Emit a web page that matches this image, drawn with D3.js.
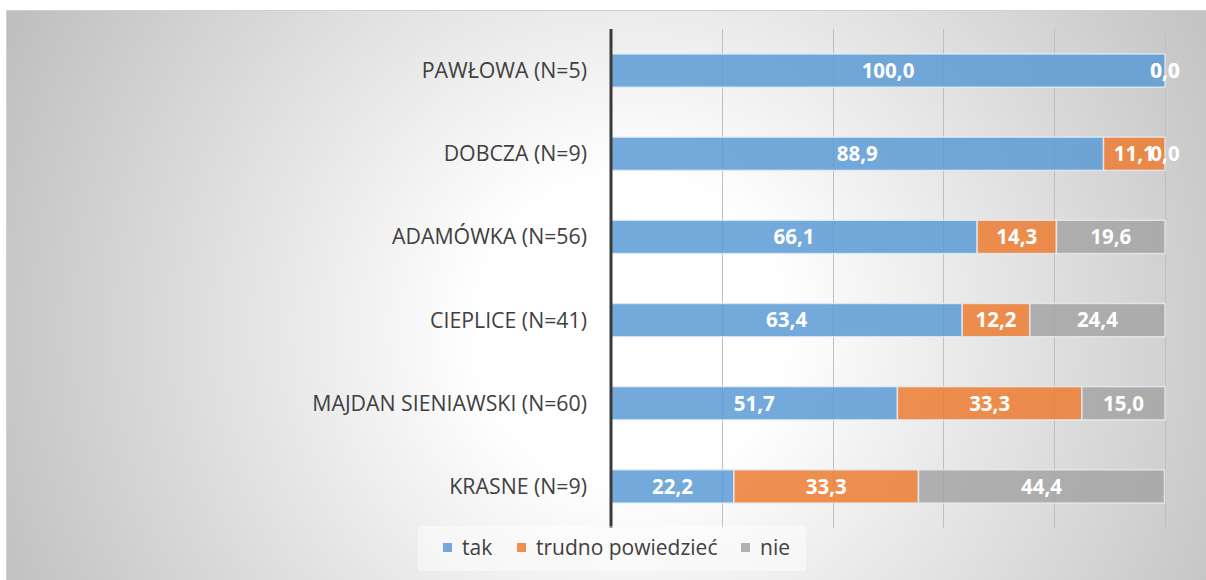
<!DOCTYPE html>
<html>
<head>
<meta charset="utf-8">
<script src="https://cdn.jsdelivr.net/npm/d3@7"></script>
<style>
  html, body { margin: 0; padding: 0; background: #ffffff; }
  svg { display: block; }
</style>
</head>
<body>
<svg id="chart" width="1206" height="580"></svg>
<script>
const categories = ["PAWŁOWA (N=5)", "DOBCZA (N=9)", "ADAMÓWKA (N=56)", "CIEPLICE (N=41)", "MAJDAN SIENIAWSKI (N=60)", "KRASNE (N=9)"];
const seriesNames = ["tak", "trudno powiedzieć", "nie"];
const tak = [100.0, 88.9, 66.1, 63.4, 51.7, 22.2];
const trudno = [0.0, 11.1, 14.3, 12.2, 33.3, 33.3];
const nie = [0.0, 0.0, 19.6, 24.4, 15.0, 44.4];
const xTicks = [0, 20, 40, 60, 80, 100];
const colors = ["#5b9bd5", "#ed7d31", "#a5a5a5"];

const W = 1206, H = 580;
const plot = { left: 611, right: 1165, top: 29, bottom: 528 };
const svg = d3.select("#chart");
const defs = svg.append("defs");
const grad = defs.append("radialGradient").attr("id", "bg")
  .attr("gradientUnits", "userSpaceOnUse")
  .attr("cx", 630).attr("cy", 330).attr("r", 690);
grad.append("stop").attr("offset", 0).attr("stop-color", "#ffffff");
grad.append("stop").attr("offset", 0.22).attr("stop-color", "#ffffff");
grad.append("stop").attr("offset", 1).attr("stop-color", "#bfbfbf");

svg.append("rect").attr("x", 6.5).attr("y", 10.5).attr("width", W).attr("height", H)
  .attr("fill", "url(#bg)").attr("stroke", "#d0d0d0").attr("stroke-width", 1);

const rows = categories.map((c, i) => ({ cat: c, "tak": tak[i], "trudno powiedzieć": trudno[i], "nie": nie[i] }));
const stacked = d3.stack().keys(seriesNames)(rows);

const x = d3.scaleLinear().domain([0, 100]).range([plot.left, plot.right]);
const y = d3.scaleBand().domain(categories).range([plot.top, plot.bottom]).paddingInner(0.6).paddingOuter(0.3);

// gridlines
svg.append("g").selectAll("line").data(xTicks.slice(1)).join("line")
  .attr("x1", d => Math.round(x(d)) + 0.5).attr("x2", d => Math.round(x(d)) + 0.5)
  .attr("y1", plot.top).attr("y2", plot.bottom)
  .attr("stroke", "#bfbfbf").attr("stroke-width", 1);

// bars
const gBars = svg.append("g");
stacked.forEach((s, si) => {
  gBars.append("g").selectAll("rect").data(s).join("rect")
    .attr("x", d => x(d[0]))
    .attr("y", d => y(d.data.cat))
    .attr("width", d => Math.max(0, x(d[1]) - x(d[0])))
    .attr("height", y.bandwidth())
    .attr("fill", colors[si]).attr("fill-opacity", 0.85)
    .attr("stroke", "#e6eef6").attr("stroke-opacity", 0.8).attr("stroke-width", 1.5);
});

// axis line
svg.append("line").attr("x1", plot.left).attr("x2", plot.left)
  .attr("y1", plot.top).attr("y2", plot.bottom)
  .attr("stroke", "#3a3a3a").attr("stroke-width", 3);

// category labels
const fmt = v => d3.format(".1f")(v).replace(".", ",");
svg.append("g").selectAll("text").data(categories).join("text")
  .attr("x", 587).attr("y", d => y(d) + y.bandwidth() / 2)
  .attr("dy", "0.35em").attr("text-anchor", "end")
  .attr("font-family", "'Open Sans', sans-serif").attr("font-size", 21.3)
  .attr("fill", "#404040").text(d => d);

// data labels
const gLab = svg.append("g");
stacked.forEach((s, si) => {
  gLab.append("g").selectAll("text").data(s).join("text")
    .attr("x", d => (x(d[0]) + x(d[1])) / 2)
    .attr("y", d => y(d.data.cat) + y.bandwidth() / 2)
    .attr("dy", "0.36em").attr("text-anchor", "middle")
    .attr("font-family", "'Open Sans', sans-serif").attr("font-weight", "bold").attr("font-size", 20.5)
    .attr("fill", "#ffffff").text(d => fmt(d[1] - d[0]));
});

// legend
const lg = svg.append("g");
lg.append("rect").attr("x", 418).attr("y", 526).attr("width", 388).attr("height", 45)
  .attr("fill", "#ffffff").attr("fill-opacity", 0.45);
const legendItems = [{ x: 443 }, { x: 517 }, { x: 741 }];
seriesNames.forEach((n, i) => {
  const gx = legendItems[i].x;
  lg.append("rect").attr("x", gx).attr("y", 543).attr("width", 9).attr("height", 9)
    .attr("fill", colors[i]).attr("fill-opacity", 0.85);
  lg.append("text").attr("x", gx + 19).attr("y", 548).attr("dy", "0.35em")
    .attr("font-family", "'Open Sans', sans-serif").attr("font-size", 21)
    .attr("fill", "#404040").text(n);
});
</script>
</body>
</html>
